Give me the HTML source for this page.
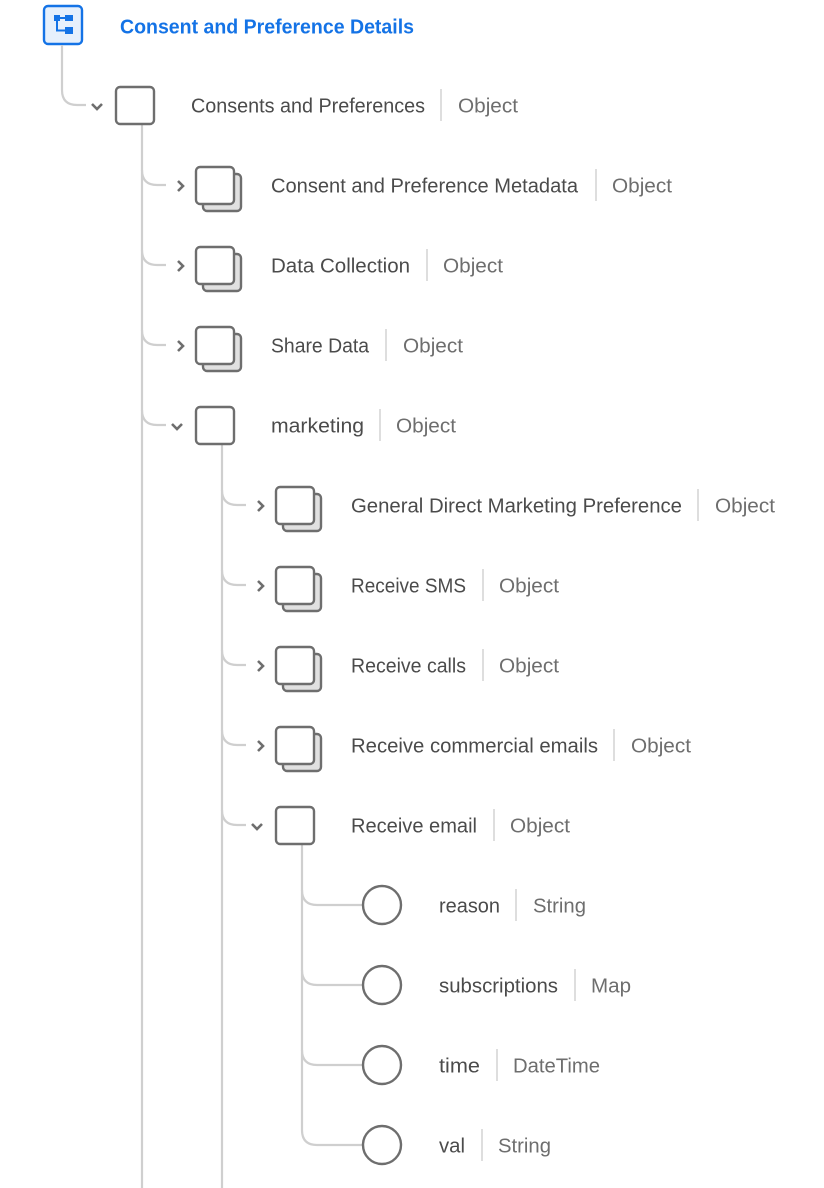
<!DOCTYPE html>
<html><head><meta charset="utf-8"><style>
html,body{margin:0;padding:0;background:#fff;width:824px;height:1188px;overflow:hidden}
svg{display:block}
text{font-family:"Liberation Sans",sans-serif;font-size:20px;dominant-baseline:central}
.l{fill:#4b4b4b}.t{fill:#6e6e6e}
.ln{stroke:#cfcfcf;stroke-width:2.2;fill:none}
.bx{fill:#fff;stroke:#6e6e6e;stroke-width:2.4}
.bk{fill:#e1e1e1;stroke:#6e6e6e;stroke-width:2.4}
.ch{stroke:#6e6e6e;stroke-width:2.6;fill:none}
.sp{stroke:#d3d3d3;stroke-width:1.5}
</style></head><body>
<svg width="824" height="1188" viewBox="0 0 824 1188">
<!-- root -->
<rect x="44" y="6" width="38" height="38" rx="4" fill="#e6f0fc" stroke="#1473e6" stroke-width="2.4"/>
<g fill="#1473e6"><rect x="54" y="15" width="6" height="6"/><rect x="65" y="15" width="8" height="6"/><rect x="65" y="27" width="8" height="7"/></g>
<path d="M57 21 V30.5 H66 M60 18 H66" stroke="#1473e6" stroke-width="2" fill="none"/>
<g transform="translate(0,1.5)">
<text x="120" y="26" textLength="294" lengthAdjust="spacingAndGlyphs" style="font-weight:bold;fill:#1473e6">Consent and Preference Details</text>
</g>

<!-- lines -->
<path class="ln" d="M62 45 V90 Q62 105 77 105 H86"/>
<path class="ln" d="M142 125 V1188"/>
<path class="ln" d="M142 170 Q142 185 157 185 H166"/>
<path class="ln" d="M142 250 Q142 265 157 265 H166"/>
<path class="ln" d="M142 330 Q142 345 157 345 H166"/>
<path class="ln" d="M142 410 Q142 425 157 425 H166"/>
<path class="ln" d="M222 445 V1188"/>
<path class="ln" d="M222 490 Q222 505 237 505 H246"/>
<path class="ln" d="M222 570 Q222 585 237 585 H246"/>
<path class="ln" d="M222 650 Q222 665 237 665 H246"/>
<path class="ln" d="M222 730 Q222 745 237 745 H246"/>
<path class="ln" d="M222 810 Q222 825 237 825 H246"/>
<path class="ln" d="M302 845 V1130 Q302 1145 317 1145 H363"/>
<path class="ln" d="M302 890 Q302 905 317 905 H363"/>
<path class="ln" d="M302 970 Q302 985 317 985 H363"/>
<path class="ln" d="M302 1050 Q302 1065 317 1065 H363"/>

<!-- chevrons -->
<path class="ch" d="M92 104 L97 109 L102 104"/>
<path class="ch" d="M178 181 L183 186 L178 191"/>
<path class="ch" d="M178 261 L183 266 L178 271"/>
<path class="ch" d="M178 341 L183 346 L178 351"/>
<path class="ch" d="M172 424 L177 429 L182 424"/>
<path class="ch" d="M258 501 L263 506 L258 511"/>
<path class="ch" d="M258 581 L263 586 L258 591"/>
<path class="ch" d="M258 661 L263 666 L258 671"/>
<path class="ch" d="M258 741 L263 746 L258 751"/>
<path class="ch" d="M252 824 L257 829 L262 824"/>

<!-- boxes -->
<rect class="bx" x="116" y="87" width="38" height="37" rx="4"/>
<rect class="bk" x="203" y="174" width="38" height="37" rx="4"/><rect class="bx" x="196" y="167" width="38" height="37" rx="4"/>
<rect class="bk" x="203" y="254" width="38" height="37" rx="4"/><rect class="bx" x="196" y="247" width="38" height="37" rx="4"/>
<rect class="bk" x="203" y="334" width="38" height="37" rx="4"/><rect class="bx" x="196" y="327" width="38" height="37" rx="4"/>
<rect class="bx" x="196" y="407" width="38" height="37" rx="4"/>
<rect class="bk" x="283" y="494" width="38" height="37" rx="4"/><rect class="bx" x="276" y="487" width="38" height="37" rx="4"/>
<rect class="bk" x="283" y="574" width="38" height="37" rx="4"/><rect class="bx" x="276" y="567" width="38" height="37" rx="4"/>
<rect class="bk" x="283" y="654" width="38" height="37" rx="4"/><rect class="bx" x="276" y="647" width="38" height="37" rx="4"/>
<rect class="bk" x="283" y="734" width="38" height="37" rx="4"/><rect class="bx" x="276" y="727" width="38" height="37" rx="4"/>
<rect class="bx" x="276" y="807" width="38" height="37" rx="4"/>
<circle class="bx" cx="382" cy="905" r="19"/>
<circle class="bx" cx="382" cy="985" r="19"/>
<circle class="bx" cx="382" cy="1065" r="19"/>
<circle class="bx" cx="382" cy="1145" r="19"/>

<!-- labels -->
<g transform="translate(0,1.5)">
<text class="l" x="191" y="105" textLength="234" lengthAdjust="spacingAndGlyphs">Consents and Preferences</text><text class="t" x="458" y="105" textLength="60" lengthAdjust="spacingAndGlyphs">Object</text>
<text class="l" x="271" y="185" textLength="307" lengthAdjust="spacingAndGlyphs">Consent and Preference Metadata</text><text class="t" x="612" y="185" textLength="60" lengthAdjust="spacingAndGlyphs">Object</text>
<text class="l" x="271" y="265" textLength="139" lengthAdjust="spacingAndGlyphs">Data Collection</text><text class="t" x="443" y="265" textLength="60" lengthAdjust="spacingAndGlyphs">Object</text>
<text class="l" x="271" y="345" textLength="98" lengthAdjust="spacingAndGlyphs">Share Data</text><text class="t" x="403" y="345" textLength="60" lengthAdjust="spacingAndGlyphs">Object</text>
<text class="l" x="271" y="425" textLength="93" lengthAdjust="spacingAndGlyphs">marketing</text><text class="t" x="396" y="425" textLength="60" lengthAdjust="spacingAndGlyphs">Object</text>
<text class="l" x="351" y="505" textLength="331" lengthAdjust="spacingAndGlyphs">General Direct Marketing Preference</text><text class="t" x="715" y="505" textLength="60" lengthAdjust="spacingAndGlyphs">Object</text>
<text class="l" x="351" y="585" textLength="115" lengthAdjust="spacingAndGlyphs">Receive SMS</text><text class="t" x="499" y="585" textLength="60" lengthAdjust="spacingAndGlyphs">Object</text>
<text class="l" x="351" y="665" textLength="115" lengthAdjust="spacingAndGlyphs">Receive calls</text><text class="t" x="499" y="665" textLength="60" lengthAdjust="spacingAndGlyphs">Object</text>
<text class="l" x="351" y="745" textLength="247" lengthAdjust="spacingAndGlyphs">Receive commercial emails</text><text class="t" x="631" y="745" textLength="60" lengthAdjust="spacingAndGlyphs">Object</text>
<text class="l" x="351" y="825" textLength="126" lengthAdjust="spacingAndGlyphs">Receive email</text><text class="t" x="510" y="825" textLength="60" lengthAdjust="spacingAndGlyphs">Object</text>
<text class="l" x="439" y="905" textLength="61" lengthAdjust="spacingAndGlyphs">reason</text><text class="t" x="533" y="905" textLength="53" lengthAdjust="spacingAndGlyphs">String</text>
<text class="l" x="439" y="985" textLength="119" lengthAdjust="spacingAndGlyphs">subscriptions</text><text class="t" x="591" y="985" textLength="40" lengthAdjust="spacingAndGlyphs">Map</text>
<text class="l" x="439" y="1065" textLength="41" lengthAdjust="spacingAndGlyphs">time</text><text class="t" x="513" y="1065" textLength="87" lengthAdjust="spacingAndGlyphs">DateTime</text>
<text class="l" x="439" y="1145" textLength="26" lengthAdjust="spacingAndGlyphs">val</text><text class="t" x="498" y="1145" textLength="53" lengthAdjust="spacingAndGlyphs">String</text>
</g>
<line class="sp" x1="441" y1="89" x2="441" y2="121"/>
<line class="sp" x1="596" y1="169" x2="596" y2="201"/>
<line class="sp" x1="427" y1="249" x2="427" y2="281"/>
<line class="sp" x1="386" y1="329" x2="386" y2="361"/>
<line class="sp" x1="380" y1="409" x2="380" y2="441"/>
<line class="sp" x1="698" y1="489" x2="698" y2="521"/>
<line class="sp" x1="483" y1="569" x2="483" y2="601"/>
<line class="sp" x1="483" y1="649" x2="483" y2="681"/>
<line class="sp" x1="614" y1="729" x2="614" y2="761"/>
<line class="sp" x1="494" y1="809" x2="494" y2="841"/>
<line class="sp" x1="516" y1="889" x2="516" y2="921"/>
<line class="sp" x1="575" y1="969" x2="575" y2="1001"/>
<line class="sp" x1="497" y1="1049" x2="497" y2="1081"/>
<line class="sp" x1="482" y1="1129" x2="482" y2="1161"/>
</svg>
</body></html>
